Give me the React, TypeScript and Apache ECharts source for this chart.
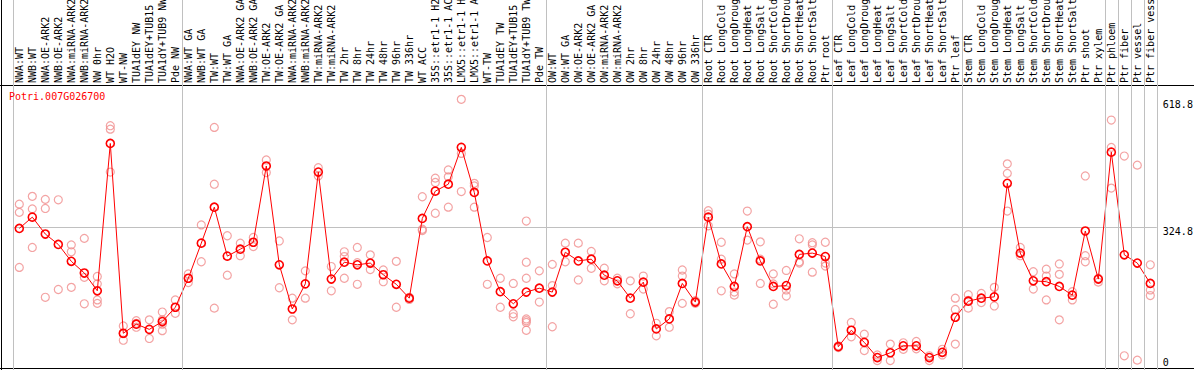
import React, { useEffect, useRef } from "react";
import * as echarts from "echarts";

// ---- data ----
const nwCategories = [
  "NWA:WT", "NWB:WT", "NWA:OE-ARK2", "NWB:OE-ARK2", "NWA:miRNA-ARK2", "NWB:miRNA-ARK2",
  "NW 0hr", "WT H2O", "WT-NW", "TUA1dEY NW", "TUA1dEY+TUB15 NW", "TUA1dY+TUB9 NW", "Pde NW",
];
const nwMeans = [321, 347, 308, 284, 245, 218, 177, 517, 79, 100, 88, 106, 139];
const nwReps = [
  [377, 358, 231], [395, 366, 277], [388, 367, 162], [387, 180], [283, 267, 185],
  [298, 208, 147], [210, 193, 156, 148], [558, 550, 451], [96, 78, 63], [108, 102, 93],
  [110, 67], [128, 110, 100, 85], [156, 125],
];

const twCategories = [
  "NWA:WT GA", "NWB:WT GA", "TW:WT", "TW:WT GA", "NWA:OE-ARK2 GA", "NWB:OE-ARK2 GA",
  "TW:OE-ARK2", "TW:OE-ARK2 GA", "NWA:miRNA-ARK2 GA", "NWB:miRNA-ARK2 GA", "TW:miRNA-ARK2",
  "TW:miRNA-ARK2 GA", "TW 2hr", "TW 8hr", "TW 24hr", "TW 48hr", "TW 96hr", "TW 336hr",
  "WT ACC", "35S::etr1-1 H2O", "35S::etr1-1 ACC", "LMX5::etr1-1 H2O", "LMX5::etr1-1 ACC",
  "WT-TW", "TUA1dEY TW", "TUA1dEY+TUB15 TW", "TUA1dY+TUB9 TW", "Pde TW",
];
const twMeans = [
  206, 287, 370, 257, 273, 289, 465, 237, 135, 193, 451, 204, 243, 237,
  241, 214, 192, 160, 344, 407, 423, 508, 404, 246, 175, 147, 174, 183,
];
const twReps = [
  [216, 196], [329, 244], [554, 423, 137], [304, 213], [287, 258], [300, 279], [479, 450],
  [292, 184], [160, 110], [223, 160], [461, 442], [233, 177], [267, 256, 206], [277, 242, 192],
  [260, 240, 226], [225, 198], [245, 139], [162, 157], [394, 319, 316], [437, 427, 356],
  [456, 440, 370], [618.8, 494, 406], [425, 419, 370], [300, 192], [206, 139], [194, 124, 117],
  [338, 243, 206, 112, 108, 104, 86], [223, 151],
];

const owCategories = [
  "OW:WT", "OW:WT GA", "OW:OE-ARK2", "OW:OE-ARK2 GA", "OW:miRNA-ARK2", "OW:miRNA-ARK2 GA",
  "OW 2hr", "OW 8hr", "OW 24hr", "OW 48hr", "OW 96hr", "OW 336hr",
];
const owMeans = [174, 266, 246, 250, 213, 200, 160, 197, 89, 112, 194, 151];
const owReps = [
  [238, 189, 94], [287, 244], [287, 202], [268, 229], [229, 200], [206, 193],
  [200, 124], [211, 181], [102, 73], [129, 93], [225, 211, 148], [154, 148],
];

const rootCategories = [
  "Root CTR", "Root LongCold", "Root LongDrought", "Root LongHeat", "Root LongSalt",
  "Root ShortCold", "Root ShortDrought", "Root ShortHeat", "Root ShortSalt", "Ptr root",
];
const rootMeans = [347, 239, 187, 325, 246, 187, 189, 261, 264, 256];
const rootReps = [
  [362, 354, 327], [289, 250, 177], [216, 174, 167], [361, 294], [290, 250, 194],
  [216, 193, 146], [224, 179, 165], [297, 244, 241], [288, 283, 220], [289, 241, 234],
];

const leafCategories = [
  "Leaf CTR", "Leaf LongCold", "Leaf LongDrought", "Leaf LongHeat", "Leaf LongSalt",
  "Leaf ShortCold", "Leaf ShortDrought", "Leaf ShortHeat", "Leaf ShortSalt", "Ptr leaf",
];
const leafMeans = [48, 86, 58, 23, 34, 50, 50, 23, 35, 116];
const leafReps = [
  [50, 46], [104, 71], [77, 39], [29, 16], [54, 16], [57, 42], [60, 43], [27, 16], [42, 29],
  [160, 134, 54],
];

const stemCategories = [
  "Stem CTR", "Stem LongCold", "Stem LongDrought", "Stem LongHeat", "Stem LongSalt",
  "Stem ShortCold", "Stem ShortDrought", "Stem ShortHeat", "Stem ShortSalt", "Ptr shoot", "Ptr xylem",
];
const stemMeans = [153, 160, 163, 425, 264, 200, 198, 187, 167, 315, 204];
const stemReps = [
  [168, 155, 137], [171, 150], [185, 142], [470, 448, 361], [277, 258], [221, 181],
  [227, 211, 156], [239, 215, 110], [175, 156], [442, 258, 244], [206, 197],
];

const phloemCategories = ["Ptr phloem"];
const phloemMeans = [497];
const phloemReps = [[571, 508, 414]];
const fiberCategories = ["Ptr fiber"];
const fiberMeans = [260];
const fiberReps = [[488, 27]];
const vesselCategories = ["Ptr vessel"];
const vesselMeans = [241];
const vesselReps = [[467, 17]];
const fiberVesselCategories = ["Ptr fiber vessel"];
const fiberVesselMeans = [194];
const fiberVesselReps = [[237, 179, 166]];

const yTickLabels = [0, 324.8, 618.8];
const yMax = 649.6;
const geneName = "Potri.007G026700";

const groups = [
  { cats: nwCategories, means: nwMeans, reps: nwReps },
  { cats: twCategories, means: twMeans, reps: twReps },
  { cats: owCategories, means: owMeans, reps: owReps },
  { cats: rootCategories, means: rootMeans, reps: rootReps },
  { cats: leafCategories, means: leafMeans, reps: leafReps },
  { cats: stemCategories, means: stemMeans, reps: stemReps },
  { cats: phloemCategories, means: phloemMeans, reps: phloemReps },
  { cats: fiberCategories, means: fiberMeans, reps: fiberReps },
  { cats: vesselCategories, means: vesselMeans, reps: vesselReps },
  { cats: fiberVesselCategories, means: fiberVesselMeans, reps: fiberVesselReps },
];

export default function App() {
  const ref = useRef<HTMLDivElement>(null);
  useEffect(() => {
    if (!ref.current) return;
    const chart = echarts.init(ref.current, null, { renderer: "svg" });
    const categories = groups.flatMap((g) => g.cats);
    const means = groups.flatMap((g) => g.means);
    const reps = groups.flatMap((g) => g.reps);
    const repPoints = reps.flatMap((r, i) => r.map((v) => [i, v]));
    const bounds: number[] = [0];
    groups.forEach((g) => bounds.push(bounds[bounds.length - 1] + g.cats.length));

    const FONT = "'DejaVu Sans Mono', 'Liberation Mono', monospace";
    const L = 12.8;
    const R = 37.2;
    const W = 1194;
    const H = 370;

    chart.setOption({
      animation: false,
      backgroundColor: "#ffffff",
      title: {
        text: geneName,
        left: 9,
        top: 91,
        padding: 0,
        textStyle: { color: "#ff0000", fontSize: 10, fontFamily: FONT, fontWeight: "normal" },
      },
      grid: [
        { left: L, right: R, top: 86, bottom: 2.5, containLabel: false, outerBoundsMode: "none" },
        { left: L, right: R, top: 0, bottom: 0, containLabel: false, outerBoundsMode: "none" },
      ],
      xAxis: [
        {
          type: "category",
          gridIndex: 0,
          position: "top",
          data: categories,
          boundaryGap: true,
          axisLine: { show: false },
          axisTick: { show: false },
          splitLine: { show: false },
          axisLabel: {
            interval: 0,
            rotate: 90,
            margin: 3,
            fontSize: 10,
            fontFamily: FONT,
            color: "#000000",
          },
        },
        { type: "value", gridIndex: 1, min: 0, max: categories.length, show: false },
      ],
      yAxis: [
        {
          type: "value",
          gridIndex: 0,
          position: "right",
          min: 0,
          max: yMax,
          interval: yMax / 2,
          axisLine: { show: false },
          axisTick: { show: false },
          splitLine: {
            show: true,
            showMinLine: false,
            showMaxLine: false,
            lineStyle: { color: "#c0c0c0", width: 1 },
          },
          axisLabel: {
            customValues: yTickLabels.filter((v) => v > 0),
            verticalAlign: "top",
            margin: 6,
            fontSize: 10,
            fontFamily: FONT,
            color: "#000000",
            formatter: (v: number) => v.toFixed(1),
          },
        },
        {
          type: "value",
          gridIndex: 0,
          position: "right",
          min: 0,
          max: yMax,
          interval: yMax / 2,
          axisLine: { show: false },
          axisTick: { show: false },
          splitLine: { show: false },
          axisLabel: {
            customValues: yTickLabels.filter((v) => v === 0),
            verticalAlign: "bottom",
            margin: 6,
            fontSize: 10,
            fontFamily: FONT,
            color: "#000000",
            formatter: (v: number) => String(v),
          },
        },
        { type: "value", gridIndex: 1, min: 0, max: 1, show: false },
      ],
      series: [
        {
          type: "line",
          xAxisIndex: 1,
          yAxisIndex: 2,
          data: [],
          silent: true,
          markLine: {
            silent: true,
            symbol: "none",
            label: { show: false },
            lineStyle: { color: "#c0c0c0", type: "solid", width: 1 },
            data: bounds.map((b) => ({ xAxis: b })),
          },
        },
        {
          type: "scatter",
          xAxisIndex: 0,
          yAxisIndex: 0,
          data: repPoints,
          symbol: "circle",
          symbolSize: 8,
          itemStyle: { color: "rgba(0,0,0,0)", borderColor: "#f08c8c", borderWidth: 1.2 },
        },
        {
          type: "line",
          xAxisIndex: 0,
          yAxisIndex: 0,
          data: means,
          symbol: "circle",
          symbolSize: 8,
          showSymbol: true,
          showAllSymbol: true,
          lineStyle: { color: "#ff0000", width: 1 },
          itemStyle: { color: "rgba(0,0,0,0)", borderColor: "#ff0000", borderWidth: 1.6 },
        },
      ],
      graphic: [
        { type: "line", shape: { x1: 0, y1: 85.5, x2: W, y2: 85.5 }, style: { stroke: "#000", lineWidth: 1 } },
        { type: "line", shape: { x1: 0, y1: 368.5, x2: W, y2: 368.5 }, style: { stroke: "#000", lineWidth: 1 } },
        { type: "line", shape: { x1: 1.5, y1: 0, x2: 1.5, y2: H }, style: { stroke: "#000", lineWidth: 1 } },
      ],
    });
    return () => chart.dispose();
  }, []);
  return (
    <div
      ref={ref}
      style={{ position: "fixed", left: 0, top: 0, width: 1194, height: 370 }}
    />
  );
}
